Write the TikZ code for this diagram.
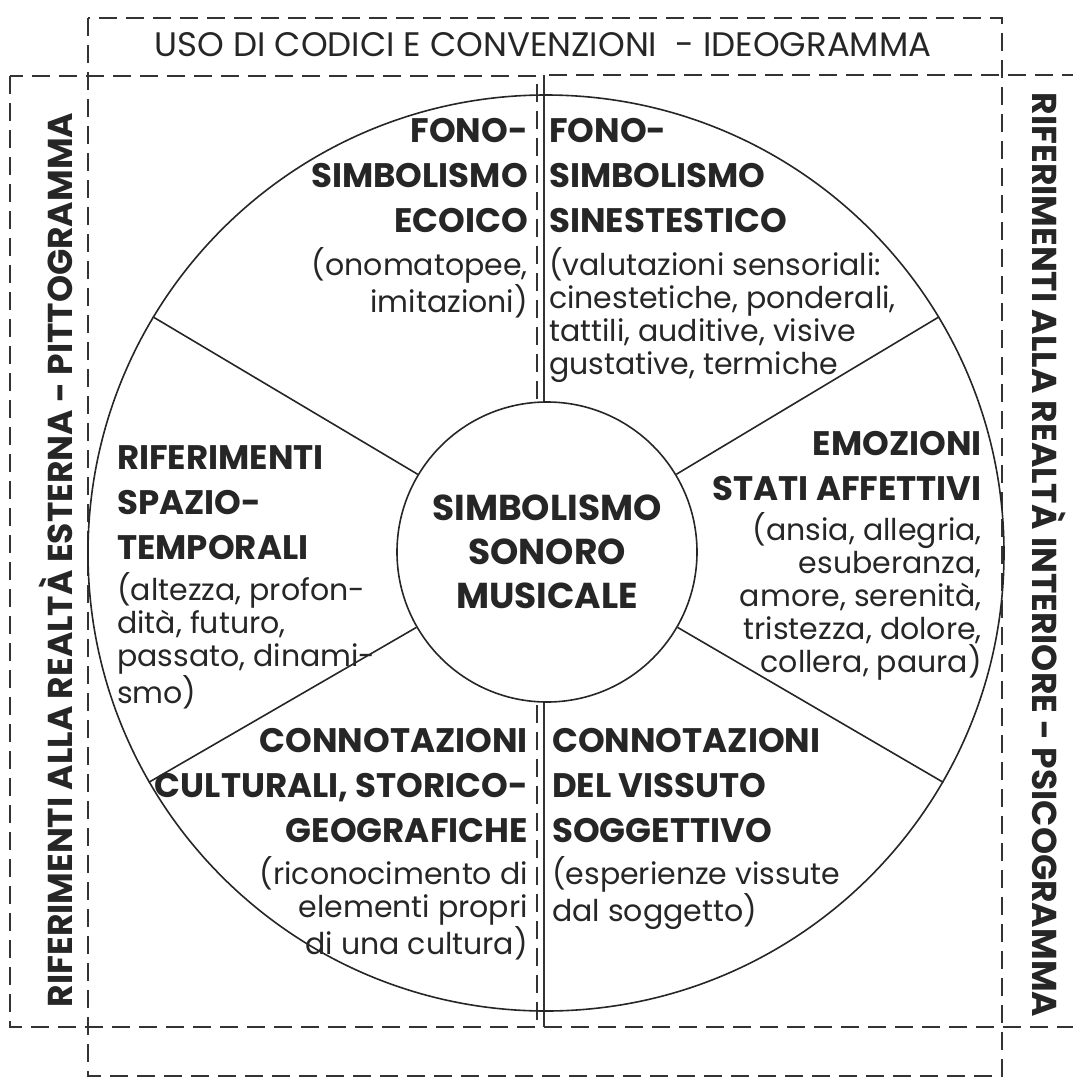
\documentclass[tikz,border=0pt]{standalone}
\usepackage{fontspec}
\setmainfont{Poppins}
\usepackage{tikz}

\begin{document}
\begin{tikzpicture}[
    x=1pt, y=-1pt,
    frame/.style={draw=black!80, line width=1.2pt, dash pattern=on 18pt off 9pt},
    ring/.style={draw=black!85, line width=1.6pt},
    head/.style={inner sep=0pt, text=black!85, font=\bfseries\fontsize{34}{45}\selectfont},
    body/.style={inner sep=0pt, text=black!85, font=\fontsize{30}{33}\selectfont},
    side/.style={inner sep=0pt, text=black!85, font=\bfseries\fontsize{34.5}{40}\selectfont},
    ]
    \useasboundingbox (0,0) rectangle (1072,1079);
    \draw[frame] (88,18) rectangle (1002,1076);
    \draw[frame] (10,76) rectangle (537,1027);
    \draw[frame] (1080,75) -- (544,75);
    \draw[frame] (544,1027) -- (1080,1027);
    \draw[draw=black!80, line width=1.2pt] (544,75) -- (544,1027);
    \node[inner sep=0pt, text=black!85, font=\fontsize{34}{40}\selectfont] (title) at (543,45)
        {USO DI CODICI E CONVENZIONI\ \ - IDEOGRAMMA};
    \node[ring, circle, minimum size=916pt, inner sep=0pt] (rim) at (546,553) {};
    \node[ring, circle, fill=white, minimum size=300pt, inner sep=0pt, align=center,
        text=black!85, font=\bfseries\fontsize{36}{44}\selectfont] (hub) at (547,552)
        {SIMBOLISMO\\SONORO\\MUSICALE};
    \foreach \a in {31,149,210,330}
        \draw[ring] (hub.\a) -- (rim.\a);
    \node[head, anchor=north east, align=right] (ecoHead) at (528,118) {FONO-\\SIMBOLISMO\\ECOICO};
    \node[body, anchor=north east, align=right] (ecoBody) at (528,247) {(onomatopee,\\imitazioni)};
    \node[head, anchor=north west, align=left] (sinHead) at (549,118) {FONO-\\SIMBOLISMO\\SINESTESTICO};
    \node[body, anchor=north west, align=left] (sinBody) at (549,247)
        {(valutazioni sensoriali:\\cinestetiche, ponderali,\\tattili, auditive, visive\\gustative, termiche};
    \node[head, anchor=north west, align=left] (spaHead) at (117,445) {RIFERIMENTI\\SPAZIO-\\TEMPORALI};
    \node[body, anchor=north west, align=left] (spaBody) at (117,572)
        {(altezza, profon-\\dità, futuro,\\passato, dinami-\\smo)};
    \node[head, anchor=north east, align=right] (emoHead) at (982,431) {EMOZIONI\\STATI AFFETTIVI};
    \node[body, anchor=north east, align=right] (emoBody) at (982,512)
        {(ansia, allegria,\\esuberanza,\\amore, serenità,\\tristezza, dolore,\\collera, paura)};
    \node[head, anchor=north east, align=right] (culHead) at (528,728)
        {CONNOTAZIONI\\CULTURALI, STORICO-\\GEOGRAFICHE};
    \node[body, anchor=north east, align=right] (culBody) at (528,856)
        {(riconocimento di\\elementi propri\\di una cultura)};
    \node[head, anchor=north west, align=left] (visHead) at (552,728)
        {CONNOTAZIONI\\DEL VISSUTO\\SOGGETTIVO};
    \node[body, anchor=north west, align=left] (visBody) at (552,856)
        {(esperienze vissute\\dal soggetto)};
    \node[side, rotate=90] (extLabel) at (56,560) {RIFERIMENTI ALLA REALTÀ ESTERNA - PITTOGRAMMA};
    \node[side, rotate=-90] (intLabel) at (1049,555) {RIFERIMENTI ALLA REALTÀ INTERIORE - PSICOGRAMMA};
\end{tikzpicture}
\end{document}
